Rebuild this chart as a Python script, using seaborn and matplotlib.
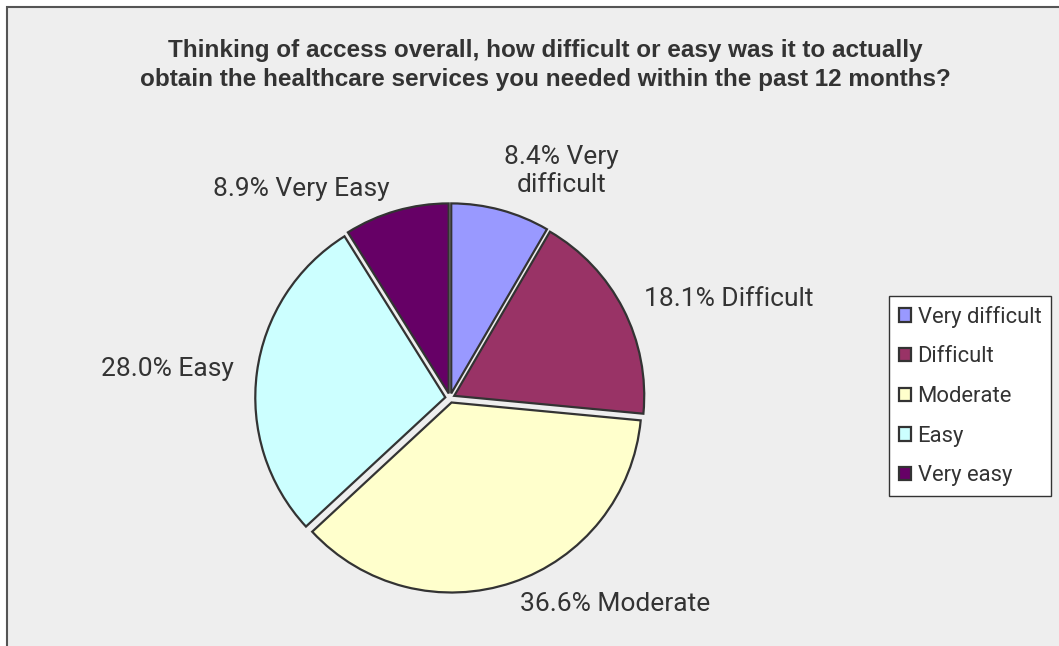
import matplotlib
matplotlib.use("Agg")
import matplotlib.pyplot as plt
import seaborn as sns
from matplotlib.patches import Rectangle

# Survey answers and their shares (%)
categories = ['Very difficult', 'Difficult', 'Moderate', 'Easy', 'Very easy']
shares = [8.4, 18.1, 36.6, 28.0, 8.9]
slice_labels = ['8.4% Very\ndifficult', '18.1% Difficult', '36.6% Moderate',
                '28.0% Easy', '8.9% Very Easy']
colors = ['#9999FF', '#993366', '#FFFFCC', '#CCFFFF', '#660066']

sns.set_theme(style='white')
plt.rcParams['font.family'] = ['Roboto', 'DejaVu Sans']
text_color = '#333333'

fig = plt.figure(figsize=(10.59, 6.46), dpi=100, facecolor='white')

# grey chart area with a dark border on the top and left
fig.patches.append(Rectangle((7 / 1059, -0.05), 1.1, 1 - 7 / 646 + 0.05,
                             transform=fig.transFigure, facecolor='#EEEEEE',
                             edgecolor='#555555', linewidth=1.5, zorder=-5))

ax = fig.add_axes([222 / 1059, 20 / 646, 456 / 1059, 456 / 646])
ax.set_facecolor('none')
wedges, texts = ax.pie(shares, labels=slice_labels, colors=colors,
                       startangle=90, counterclock=False,
                       explode=[0.025] * len(shares), labeldistance=1.12,
                       wedgeprops=dict(edgecolor='#333333', linewidth=1.6),
                       textprops=dict(fontsize=19, color=text_color,
                                      linespacing=1.25))
texts[0].set_horizontalalignment('center')
texts[0].set_position((texts[0].get_position()[0] + 0.29, texts[0].get_position()[1] + 0.09))
ax.set_xlim(-1.2, 1.2)
ax.set_ylim(-1.2, 1.2)
ax.set_aspect('equal')
ax.axis('off')

fig.text(545 / 1059, 1 - 65 / 646,
         'Thinking of access overall, how difficult or easy was it to actually\n'
         'obtain the healthcare services you needed within the past 12 months?',
         ha='center', va='center', fontsize=17.5, fontweight='bold',
         family=['Liberation Sans', 'DejaVu Sans'],
         color=text_color, linespacing=1.3)

leg = fig.legend(wedges, categories, loc='center left',
                 bbox_to_anchor=(889 / 1059, (646 - 396) / 646),
                 bbox_transform=fig.transFigure, fontsize=15.8,
                 frameon=True, fancybox=False, edgecolor='#333333',
                 facecolor='white', framealpha=1,
                 handlelength=0.55, handleheight=0.55, handletextpad=0.3,
                 labelspacing=0.85, borderpad=0.45, borderaxespad=0)
leg.get_frame().set_linewidth(1.0)
for t in leg.get_texts():
    t.set_color(text_color)

fig.savefig('out.png', dpi=100, facecolor='white')
